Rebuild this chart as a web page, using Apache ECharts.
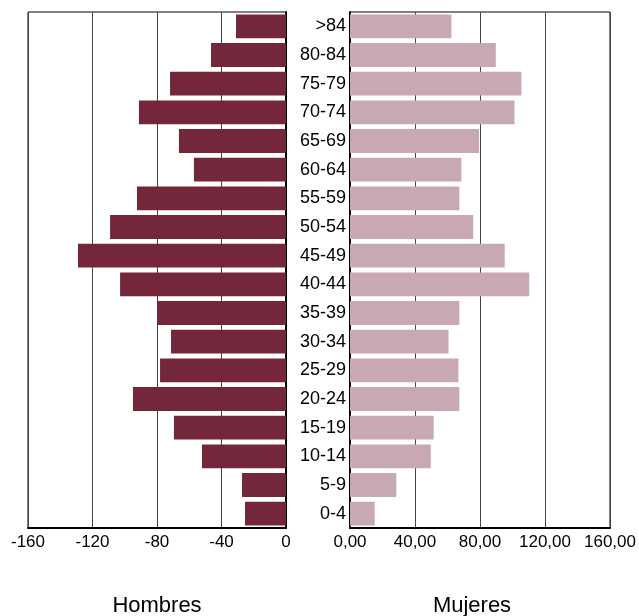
<!DOCTYPE html>
<html>
<head>
<meta charset="utf-8">
<script src="https://cdn.jsdelivr.net/npm/echarts@6/dist/echarts.min.js"></script>
<style>html,body{margin:0;padding:0;background:#fff}#c{width:639px;height:616px}</style>
</head>
<body>
<div id="c"></div>
<script>
var categories = ['0-4','5-9','10-14','15-19','20-24','25-29','30-34','35-39','40-44','45-49','50-54','55-59','60-64','65-69','70-74','75-79','80-84','>84'];
var hombres = [25.4, 27.3, 52.1, 69.5, 94.9, 78.1, 71.3, 80.0, 102.9, 129.0, 109.1, 92.4, 57.1, 66.4, 91.2, 71.9, 46.5, 31.0];
var mujeres = [15.2, 28.5, 49.7, 51.5, 67.3, 66.7, 60.6, 67.3, 110.3, 95.2, 75.8, 67.3, 68.5, 79.4, 101.2, 105.5, 89.7, 62.4];
var leftTicks = [-160, -120, -80, -40, 0];
var rightTicks = [0, 40, 80, 120, 160];

var chart = echarts.init(document.getElementById('c'), null, {renderer: 'canvas'});
var font = 'Liberation Sans, Arial, sans-serif';
var option = {
  animation: false,
  backgroundColor: '#fff',
  title: [
    {text: 'Hombres', left: 152, top: 590, textAlign: 'center',
     textStyle: {fontFamily: font, fontSize: 22, fontWeight: 'normal', color: '#000'}},
    {text: 'Mujeres', left: 467, top: 590, textAlign: 'center',
     textStyle: {fontFamily: font, fontSize: 22, fontWeight: 'normal', color: '#000'}}
  ],
  grid: [
    {left: 28, right: 353, top: 12, bottom: 88, show: true, borderColor: '#000', borderWidth: 1},
    {left: 350, right: 25, top: 12, bottom: 88, show: true, borderColor: '#000', borderWidth: 1}
  ],
  xAxis: [
    {gridIndex: 0, type: 'value', min: leftTicks[0], max: leftTicks[leftTicks.length-1], interval: 40,
     axisLine: {show: true, lineStyle: {color: '#000', width: 2}},
     axisTick: {show: false},
     axisLabel: {color: '#000', fontSize: 17, fontFamily: font, margin: 6},
     splitLine: {show: true, lineStyle: {color: '#444', width: 1}}},
    {gridIndex: 1, type: 'value', min: rightTicks[0], max: rightTicks[rightTicks.length-1], interval: 40,
     axisLine: {show: true, lineStyle: {color: '#000', width: 2}},
     axisTick: {show: false},
     axisLabel: {color: '#000', fontSize: 17, fontFamily: font, margin: 6,
       formatter: function (v) { return v.toFixed(2).replace('.', ','); }},
     splitLine: {show: true, lineStyle: {color: '#444', width: 1}}}
  ],
  yAxis: [
    {gridIndex: 0, type: 'category', data: categories, position: 'right',
     axisLine: {show: true, onZero: false, lineStyle: {color: '#000', width: 2}},
     axisTick: {show: false}, axisLabel: {show: false}},
    {gridIndex: 1, type: 'category', data: categories, position: 'left',
     axisLine: {show: true, onZero: false, lineStyle: {color: '#000', width: 2}},
     axisTick: {show: false},
     axisLabel: {color: '#000', fontSize: 18, fontFamily: font, margin: 4}}
  ],
  series: [
    {name: 'Hombres', type: 'bar', xAxisIndex: 0, yAxisIndex: 0,
     data: hombres.map(function (v) { return -v; }),
     barCategoryGap: '17%', itemStyle: {color: '#74263b'}},
    {name: 'Mujeres', type: 'bar', xAxisIndex: 1, yAxisIndex: 1,
     data: mujeres, barCategoryGap: '17%', itemStyle: {color: '#c9a9b1'}}
  ]
};
chart.setOption(option);
</script>
</body>
</html>
